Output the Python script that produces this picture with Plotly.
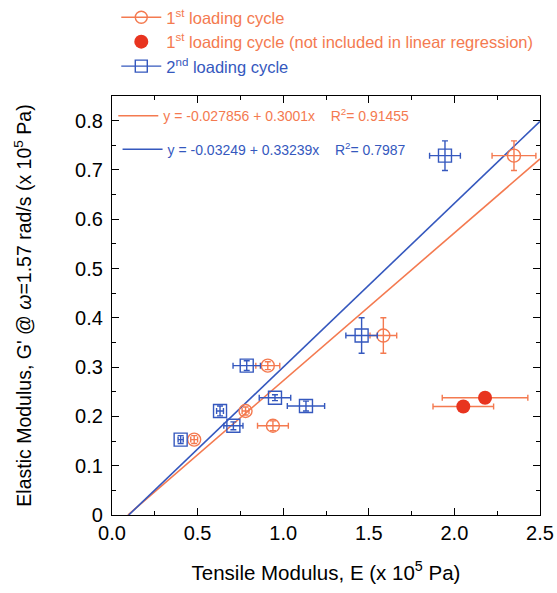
import numpy as np
import plotly.graph_objects as go

# Colours
ORANGE = "#F47A50"
RED = "#E8341F"
BLUE = "#3558BE"
FONT = "Arial, Liberation Sans, sans-serif"

# 1st loading cycle (used in regression)
c1_x = [0.48, 0.78, 0.91, 0.94, 1.585, 2.348]
c1_y = [0.153, 0.211, 0.303, 0.181, 0.364, 0.729]
c1_xerr = [0.02, 0.02, 0.07, 0.09, 0.078, 0.128]
c1_yerr = [0.008, 0.008, 0.008, 0.01, 0.036, 0.03]

# 1st loading cycle (excluded from regression)
ex_x = [2.052, 2.179]
ex_y = [0.220, 0.238]
ex_xerr = [0.177, 0.25]

# 2nd loading cycle
c2_x = [0.401, 0.631, 0.709, 0.787, 0.952, 1.133, 1.458, 1.945]
c2_y = [0.153, 0.211, 0.181, 0.303, 0.238, 0.221, 0.364, 0.729]
c2_xerr = [0.015, 0.02, 0.056, 0.08, 0.092, 0.109, 0.092, 0.09]
c2_yerr = [0.008, 0.01, 0.008, 0.01, 0.006, 0.01, 0.036, 0.03]

# Linear fits: intercept, slope, R^2
fit1 = (-0.027856, 0.3001, 0.91455)
fit2 = (-0.03249, 0.33239, 0.7987)

x_ticks = [0.0, 0.5, 1.0, 1.5, 2.0, 2.5]
x_ticktext = ["0.0", "0.5", "1.0", "1.5", "2.0", "2.5"]
y_ticks = [0, 0.1, 0.2, 0.3, 0.4, 0.5, 0.6, 0.7, 0.8]
y_ticktext = ["0", "0.1", "0.2", "0.3", "0.4", "0.5", "0.6", "0.7", "0.8"]

X_MAX = 2.5


def fit_line(fit):
    a, b, _ = fit
    x0 = -a / b
    xs = np.array([x0, X_MAX])
    return xs, a + b * xs


fig = go.Figure()

# Regression lines
for fit, col, leg in [(fit1, ORANGE, "legend2"), (fit2, BLUE, "legend3")]:
    xs, ys = fit_line(fit)
    a, b, r2 = fit
    label = (f'<span style="color:{col}">y = {a:g} + {b:g}x&nbsp;&nbsp;&nbsp; '
             f'R<sup>2</sup>= {r2:g}</span>')
    fig.add_trace(go.Scatter(
        x=xs, y=ys, mode="lines", line=dict(color=col, width=1.6),
        name=label, legend=leg, showlegend=True, hoverinfo="skip"))

# Data points
fig.add_trace(go.Scatter(
    x=c1_x, y=c1_y, mode="markers",
    marker=dict(symbol="circle-open", size=13, color=ORANGE, line=dict(width=1.4, color=ORANGE)),
    error_x=dict(type="data", array=c1_xerr, color=ORANGE, thickness=1.4, width=3),
    error_y=dict(type="data", array=c1_yerr, color=ORANGE, thickness=1.4, width=3),
    showlegend=False))
fig.add_trace(go.Scatter(
    x=ex_x, y=ex_y, mode="markers",
    marker=dict(symbol="circle", size=14, color=RED),
    error_x=dict(type="data", array=ex_xerr, color=ORANGE, thickness=1.4, width=3),
    showlegend=False))
fig.add_trace(go.Scatter(
    x=c2_x, y=c2_y, mode="markers",
    marker=dict(symbol="square-open", size=13, color=BLUE, line=dict(width=1.4, color=BLUE)),
    error_x=dict(type="data", array=c2_xerr, color=BLUE, thickness=1.4, width=3),
    error_y=dict(type="data", array=c2_yerr, color=BLUE, thickness=1.4, width=3),
    showlegend=False))

# Legend entries for the data series
fig.add_trace(go.Scatter(
    x=[None], y=[None], mode="lines+markers",
    line=dict(color=ORANGE, width=1.4),
    marker=dict(symbol="circle-open", size=12, color=ORANGE, line=dict(width=1.4)),
    name=f'<span style="color:{ORANGE}">1<sup>st</sup> loading cycle</span>', legend="legend"))
fig.add_trace(go.Scatter(
    x=[None], y=[None], mode="markers",
    marker=dict(symbol="circle", size=14, color=RED),
    name=f'<span style="color:{ORANGE}">1<sup>st</sup> loading cycle (not included in linear regression)</span>',
    legend="legend"))
fig.add_trace(go.Scatter(
    x=[None], y=[None], mode="lines+markers",
    line=dict(color=BLUE, width=1.4),
    marker=dict(symbol="square-open", size=12, color=BLUE, line=dict(width=1.4)),
    name=f'<span style="color:{BLUE}">2<sup>nd</sup> loading cycle</span>', legend="legend"))

axis_common = dict(
    showline=True, linecolor="black", linewidth=1.3, mirror="ticks",
    ticks="inside", ticklen=7, tickwidth=1.2, tickcolor="black",
    showgrid=False, zeroline=False, automargin=False,
    tickfont=dict(family=FONT, size=20, color="black"),
)

fig.update_layout(
    width=557, height=593,
    margin=dict(l=112, r=17, t=89, b=78),
    paper_bgcolor="white", plot_bgcolor="white",
    font=dict(family=FONT, color="black"),
    xaxis=dict(
        range=[0, X_MAX], tickvals=x_ticks, ticktext=x_ticktext,
        minor=dict(ticks="inside", ticklen=4, dtick=0.25, tickcolor="black", tickwidth=1.2),
        title=dict(text="Tensile Modulus, E (x 10<sup>5</sup> Pa)",
                   font=dict(family=FONT, size=20.5), standoff=22),
        **axis_common),
    yaxis=dict(
        range=[0, 0.85], tickvals=y_ticks, ticktext=y_ticktext, ticklabelstandoff=4,
        minor=dict(ticks="inside", ticklen=4, dtick=0.05, tickcolor="black", tickwidth=1.2),
        title=dict(text="Elastic Modulus, G' @ <i>ω</i>=1.57 rad/s (x 10<sup>5</sup> Pa)",
                   font=dict(family=FONT, size=19.5), standoff=38),
        **axis_common),
    legend=dict(
        x=0.01, xref="paper", y=1.0, yref="container", xanchor="left", yanchor="top",
        bgcolor="rgba(0,0,0,0)", font=dict(family=FONT, size=16.5),
        tracegroupgap=0, itemwidth=40),
    legend2=dict(
        x=0.003, y=0.99, xanchor="left", yanchor="top", itemwidth=40,
        bgcolor="rgba(0,0,0,0)", font=dict(family=FONT, size=14)),
    legend3=dict(
        x=0.013, y=0.91, xanchor="left", yanchor="top", itemwidth=40,
        bgcolor="rgba(0,0,0,0)", font=dict(family=FONT, size=14)),
)

fig.write_html("out.html")
